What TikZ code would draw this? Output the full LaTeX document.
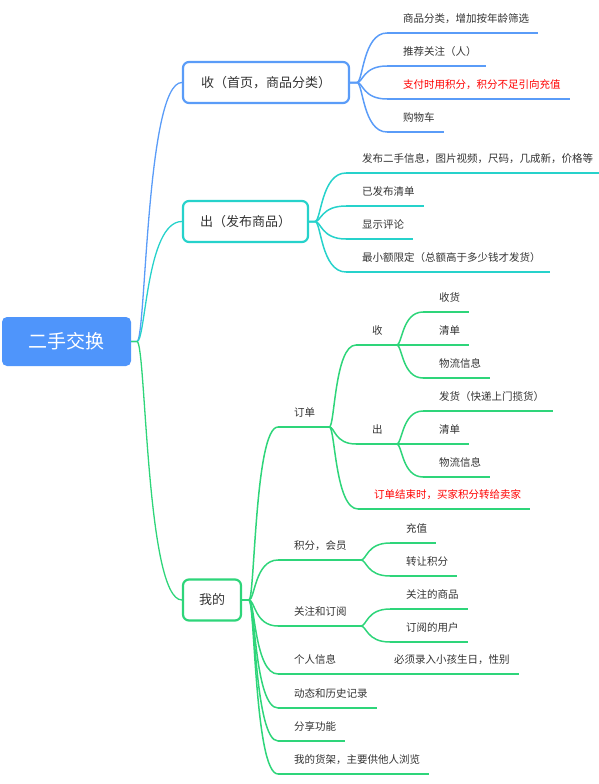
\documentclass[tikz,border=0pt]{standalone}
\usepackage{fontspec}
\setmainfont{Noto Sans CJK SC}
\usetikzlibrary{calc}
\definecolor{rootblue}{HTML}{4F95FB}
\definecolor{cblue}{HTML}{5A9CF8}
\definecolor{ccyan}{HTML}{26D2CB}
\definecolor{cgreen}{HTML}{2ED57A}
\definecolor{txt}{HTML}{333333}
\definecolor{cred}{HTML}{FF0000}
\tikzset{
  conn/.style={to path={let \p1=(\tikztostart), \p2=(\tikztotarget) in
     .. controls ({\x1+0.2*(\x2-\x1)},\y1) and ({\x1+0.2*(\x2-\x1)},\y2) .. (\tikztotarget)}},
  lnk/.style={draw=#1, line width=1.5pt},
  rlnk/.style={draw=#1, line width=1.3pt},
  basetext/.style={inner sep=0pt, text height=8pt, text depth=10pt, anchor=south west,
     font=\fontsize{10.5}{12}\selectfont, text=txt},
  leaf/.style={basetext, execute at begin node={\hspace*{16pt}}, execute at end node={\hspace*{9pt}},
     append after command={(\tikzlastnode.south west) edge[draw=#1, line width=1.5pt] (\tikzlastnode.south east)}},
  midnode/.style={basetext, execute at begin node={\hspace*{16pt}}, execute at end node={\hspace*{14pt}},
     append after command={(\tikzlastnode.south west) edge[draw=#1, line width=1.5pt] (\tikzlastnode.south east)}},
  lone/.style={draw=#1, line width=2.2pt, rounded corners=6pt, fill=white, minimum height=41pt,
     inner xsep=0pt, text=txt, font=\fontsize{13}{15}\selectfont},
  rootbox/.style={fill=rootblue, rounded corners=5pt, minimum width=129pt, minimum height=49pt,
     text=white, font=\fontsize{19}{21}\selectfont},
}
\begin{document}
\begin{tikzpicture}[x=1pt, y=-1pt]
\useasboundingbox (0,0) rectangle (599,784);
% root and level one
\node[rootbox] (root) at (66.5,341.5) {二手交换};
\node[lone=cblue, minimum width=166pt] (n1) at (266,82.5) {收（首页，商品分类）};
\node[lone=ccyan, minimum width=125pt] (n2) at (245.5,221.5) {出（发布商品）};
\node[lone=cgreen, minimum width=58pt] (n3) at (212,600) {我的};
\coordinate (rj) at (137,341.5);
\coordinate (j1) at (357,82.5);
\coordinate (j2) at (315,221.5);
\coordinate (j3) at (249,600);
\draw[rlnk=cblue] (root.east) -- (rj) to[conn] (n1.west);
\draw[rlnk=ccyan] (root.east) -- (rj) to[conn] (n2.west);
\draw[rlnk=cgreen] (root.east) -- (rj) to[conn] (n3.west);
% branch 1
\node[leaf=cblue] (a1) at (387,33) {商品分类，增加按年龄筛选};
\node[leaf=cblue] (a2) at (387,66) {推荐关注（人）};
\node[leaf=cblue, text=cred] (a3) at (387,99) {支付时用积分，积分不足引向充值};
\node[leaf=cblue] (a4) at (387,132) {购物车};
\foreach \t in {a1,a2,a3,a4} \draw[lnk=cblue] (n1.east) -- (j1) to[conn] (\t.south west);
% branch 2
\node[leaf=ccyan] (b1) at (346,173) {发布二手信息，图片视频，尺码，几成新，价格等};
\node[leaf=ccyan] (b2) at (346,206) {已发布清单};
\node[leaf=ccyan] (b3) at (346,239) {显示评论};
\node[leaf=ccyan] (b4) at (346,272) {最小额限定（总额高于多少钱才发货）};
\foreach \t in {b1,b2,b3,b4} \draw[lnk=ccyan] (n2.east) -- (j2) to[conn] (\t.south west);
% branch 3
\node[midnode=cgreen] (c1) at (278,427) {订单};
\node[midnode=cgreen] (c2) at (278,560) {积分，会员};
\node[midnode=cgreen] (c3) at (278,626) {关注和订阅};
\node[midnode=cgreen] (c4) at (278,674) {个人信息};
\node[leaf=cgreen] (c5) at (278,708) {动态和历史记录};
\node[leaf=cgreen] (c6) at (278,741) {分享功能};
\node[leaf=cgreen] (c7) at (278,774) {我的货架，主要供他人浏览};
\foreach \t in {c1,c2,c3,c4,c5,c6,c7} \draw[lnk=cgreen] (n3.east) -- (j3) to[conn] (\t.south west);
% order
\node[midnode=cgreen] (e1) at (356,345) {收};
\node[midnode=cgreen] (e2) at (356,444) {出};
\node[leaf=cgreen, text=cred] (e3) at (358,509) {订单结束时，买家积分转给卖家};
\foreach \t in {e1,e2,e3} \draw[lnk=cgreen] (c1.south east) to[conn] (\t.south west);
\node[leaf=cgreen] (f1) at (423,312) {收货};
\node[leaf=cgreen] (f2) at (423,345) {清单};
\node[leaf=cgreen] (f3) at (423,378) {物流信息};
\foreach \t in {f1,f2,f3} \draw[lnk=cgreen] (e1.south east) to[conn] (\t.south west);
\node[leaf=cgreen] (g1) at (423,411) {发货（快递上门揽货）};
\node[leaf=cgreen] (g2) at (423,444) {清单};
\node[leaf=cgreen] (g3) at (423,477) {物流信息};
\foreach \t in {g1,g2,g3} \draw[lnk=cgreen] (e2.south east) to[conn] (\t.south west);
% points
\node[leaf=cgreen] (h1) at (390,543) {充值};
\node[leaf=cgreen] (h2) at (390,576) {转让积分};
\foreach \t in {h1,h2} \draw[lnk=cgreen] (c2.south east) to[conn] (\t.south west);
\node[leaf=cgreen] (i1) at (390,609) {关注的商品};
\node[leaf=cgreen] (i2) at (390,642) {订阅的用户};
\foreach \t in {i1,i2} \draw[lnk=cgreen] (c3.south east) to[conn] (\t.south west);
\node[leaf=cgreen] (d1) at (378,674) {必须录入小孩生日，性别};
\draw[lnk=cgreen] (c4.south east) to[conn] (d1.south west);
\end{tikzpicture}
\end{document}
